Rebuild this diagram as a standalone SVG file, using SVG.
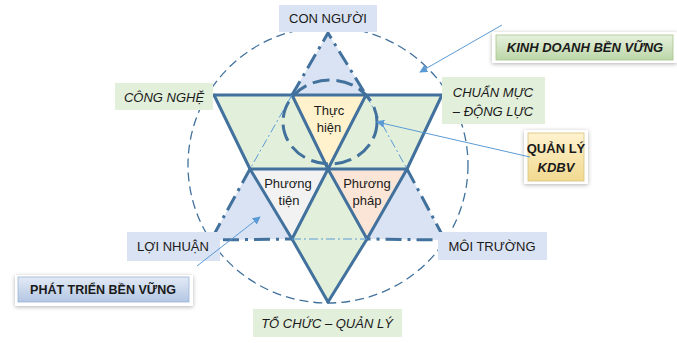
<svg xmlns="http://www.w3.org/2000/svg" width="677" height="343" viewBox="0 0 677 343">
<style>
.solid{fill:none;stroke:#41719c;stroke-width:3;stroke-linejoin:round;stroke-linecap:round}
.dd{fill:none;stroke:#41719c;stroke-width:3;stroke-dasharray:16 6 3 6}
.thin{fill:none;stroke:#5b9bd5;stroke-width:1;stroke-dasharray:9 3 2 3}
.conn{fill:none;stroke:#5b9bd5;stroke-width:1}
.lbl{font-family:"Liberation Sans",Arial,sans-serif;font-size:13px;fill:#1a1a1a;text-anchor:middle}
.it{font-style:italic}
.bd{font-weight:bold}
.blue{fill:#dae3f3}
.green{fill:#e2efda}
</style>
<defs>
<marker id="ah" viewBox="0 0 10 10" refX="9" refY="5" markerWidth="8" markerHeight="8" orient="auto" markerUnits="userSpaceOnUse">
<path d="M0,0 L10,5 L0,10 z" fill="#5b9bd5"/>
</marker>
<linearGradient id="gG" x1="0" y1="0" x2="0" y2="1"><stop offset="0" stop-color="#e6f1dd"/><stop offset="1" stop-color="#bcd6a8"/></linearGradient>
<linearGradient id="gY" x1="0" y1="0" x2="0" y2="1"><stop offset="0" stop-color="#fff3d0"/><stop offset="1" stop-color="#f2d98f"/></linearGradient>
<linearGradient id="gB" x1="0" y1="0" x2="0" y2="1"><stop offset="0" stop-color="#e3eaf6"/><stop offset="1" stop-color="#b3c6e2"/></linearGradient>
<filter id="sh" x="-20%" y="-40%" width="140%" height="180%"><feDropShadow dx="0" dy="1" stdDeviation="2" flood-color="#000" flood-opacity="0.3"/></filter>
</defs>

<g id="fills">
<polygon class="blue" points="328,33 292,95 366,95"/>
<polygon class="blue" points="250,169 211,240 292,239"/>
<polygon class="blue" points="407,169 367,239 445,240"/>
<polygon class="green" points="214,95 292,95 250,169"/>
<polygon class="green" points="366,95 442,95 407,169"/>
<polygon class="green" points="292,239 367,239 328,302"/>
<polygon class="green" points="292,95 328,169 250,169"/>
<polygon class="green" points="366,95 407,169 328,169"/>
<polygon class="green" points="328,169 367,239 292,239"/>
</g>

<g id="thuc-hien"><polygon points="292,95 366,95 328,169" fill="#fff2cc"/>
<text class="lbl" x="329" y="115">Thực</text><text class="lbl" x="329" y="132">hiện</text></g>
<g id="phuong-tien"><polygon points="250,169 328,169 292,239" fill="#f2f2f2"/>
<text class="lbl" x="288" y="188">Phương</text><text class="lbl" x="289" y="205">tiện</text></g>
<g id="phuong-phap"><polygon points="328,169 407,169 367,239" fill="#fbe5d6"/>
<text class="lbl" x="367" y="188">Phương</text><text class="lbl" x="367" y="205">pháp</text></g>

<g id="lines">
<polyline class="solid" points="214,95 442,95"/>
<polyline class="solid" points="214,95 250,169 292,239 328,302"/>
<polyline class="solid" points="442,95 407,169 367,239 328,302"/>
<polyline class="solid" points="292,95 328,169 367,239"/>
<polyline class="solid" points="366,95 328,169 292,239"/>
<polyline class="solid" points="250,169 407,169"/>
<polyline class="dd" points="292,95 328,33 366,95"/>
<polyline class="dd" points="250,169 211,240 292,239"/>
<polyline class="dd" points="407,169 445,240 367,239"/>
<polyline class="thin" points="292,95 250,169"/>
<polyline class="thin" points="366,95 407,169"/>
<polyline class="thin" points="292,239 367,239"/>
<ellipse cx="328" cy="165" rx="140" ry="138" fill="none" stroke="#41719c" stroke-width="1.3" stroke-dasharray="9 5"/>
<ellipse cx="330" cy="122" rx="47" ry="42" fill="none" stroke="#41719c" stroke-width="3" stroke-dasharray="17 7"/>
</g>

<g id="con-nguoi"><rect x="279" y="5" width="98" height="27" class="blue"/><text class="lbl" x="328" y="23">CON NGƯỜI</text></g>
<g id="cong-nghe"><rect x="115" y="83" width="98" height="27" class="green"/><text class="lbl it" x="164" y="102">CÔNG NGHỆ</text></g>
<g id="chuan-muc"><rect x="442" y="77" width="103" height="47" class="green"/><text class="lbl it" x="493" y="97">CHUẨN MỰC</text><text class="lbl it" x="493" y="116">– ĐỘNG LỰC</text></g>
<g id="loi-nhuan"><rect x="127" y="232" width="93" height="29" class="blue"/><text class="lbl" x="173" y="251">LỢI NHUẬN</text></g>
<g id="moi-truong"><rect x="438" y="232" width="109" height="28" class="blue"/><text class="lbl" x="492" y="251">MÔI TRƯỜNG</text></g>
<g id="to-chuc"><rect x="253" y="309" width="149" height="28" class="green"/><text class="lbl it" x="327" y="328">TỔ CHỨC – QUẢN LÝ</text></g>

<g id="kinh-doanh"><rect x="492" y="32" width="185" height="31" fill="#fff" filter="url(#sh)"/><rect x="496" y="35" width="177" height="25" fill="url(#gG)" stroke="#a9c48f" stroke-width="0.8"/><text class="lbl it bd" x="585" y="52">KINH DOANH BỀN VỮNG</text></g>
<g id="quan-ly"><rect x="524" y="130" width="64" height="54" fill="#fff" filter="url(#sh)"/><rect x="528" y="133" width="56" height="48" fill="url(#gY)" stroke="#d9c07a" stroke-width="0.8"/><text class="lbl bd" x="556" y="153">QUẢN LÝ</text><text class="lbl it bd" x="556" y="172">KDBV</text></g>
<g id="phat-trien"><rect x="15" y="275" width="178" height="31" fill="#fff" filter="url(#sh)"/><rect x="18" y="277" width="171" height="25" fill="url(#gB)" stroke="#9fb4d6" stroke-width="0.8"/><text class="lbl bd" x="103" y="294" style="font-size:12.5px">PHÁT TRIỂN BỀN VỮNG</text></g>

<g id="connectors">
<line class="conn" x1="502" y1="25" x2="420" y2="72" marker-end="url(#ah)"/>
<line class="conn" x1="530" y1="157" x2="377" y2="122" marker-end="url(#ah)"/>
<line class="conn" x1="197" y1="266" x2="260" y2="217" marker-end="url(#ah)"/>
</g>
</svg>
